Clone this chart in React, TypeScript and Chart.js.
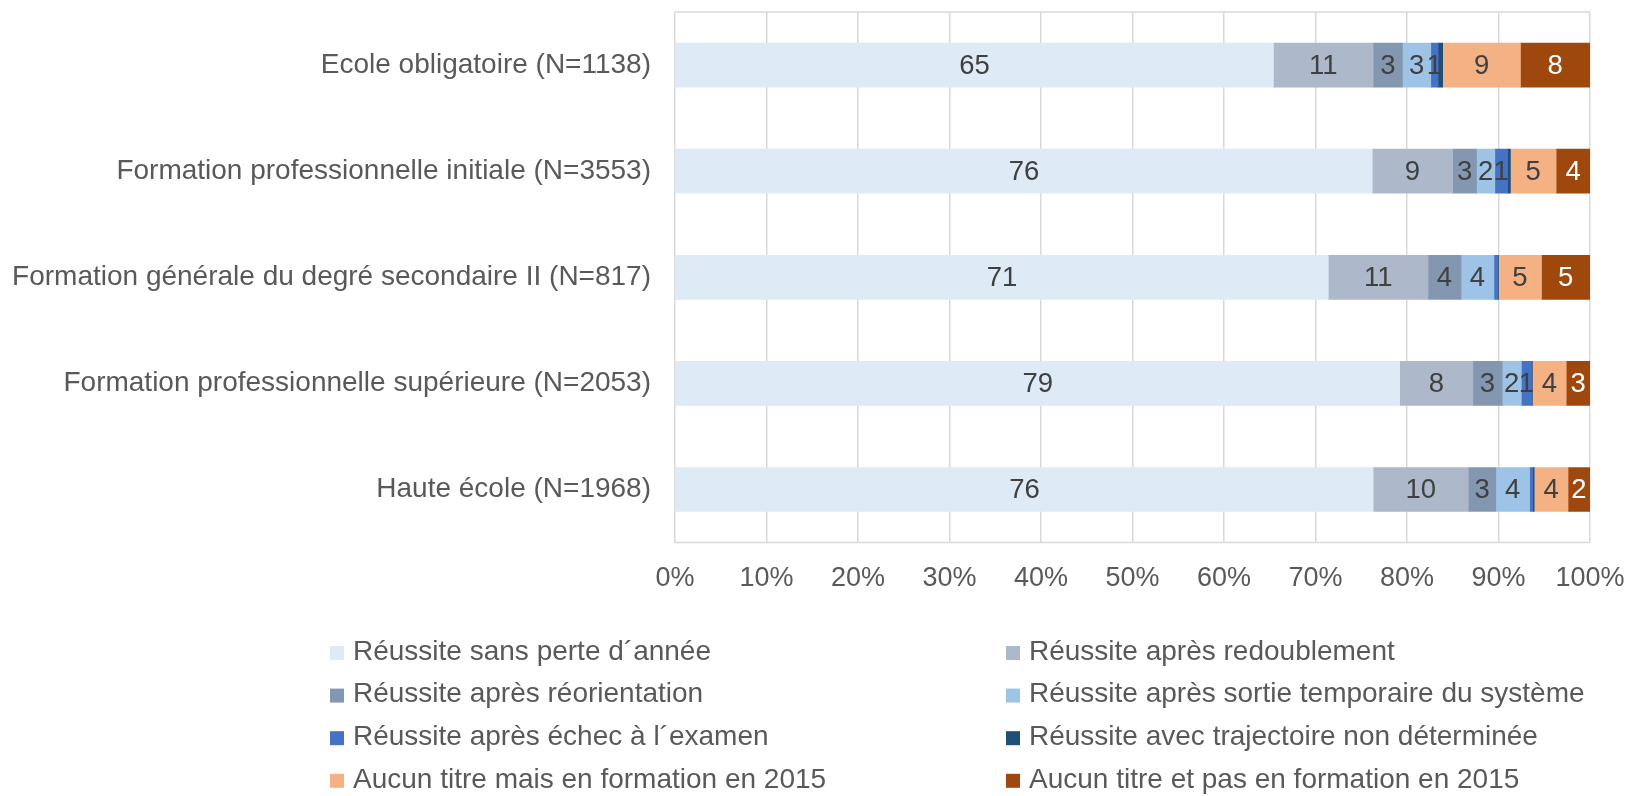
import React, { useEffect, useRef } from "react";
import { Chart, registerables } from "chart.js";

Chart.register(...registerables);

const categories = [
  "Ecole obligatoire (N=1138)",
  "Formation professionnelle initiale (N=3553)",
  "Formation générale du degré secondaire II (N=817)",
  "Formation professionnelle supérieure (N=2053)",
  "Haute école (N=1968)",
];

const seriesLabels = [
  "Réussite sans perte d´année",
  "Réussite après redoublement",
  "Réussite après réorientation",
  "Réussite après sortie temporaire du système",
  "Réussite après échec à l´examen",
  "Réussite avec trajectoire non déterminée",
  "Aucun titre mais en formation en 2015",
  "Aucun titre et pas en formation en 2015",
];

const sansPerte = [65.4, 76.2, 71.4, 79.2, 76.3];
const redoublement = [10.9, 8.8, 10.9, 8.0, 10.4];
const reorientation = [3.2, 2.6, 3.6, 3.2, 3.0];
const sortieTemporaire = [3.1, 2.0, 3.6, 2.1, 3.7];
const echecExamen = [0.8, 1.4, 0.4, 1.1, 0.35];
const nonDeterminee = [0.5, 0.3, 0.1, 0.1, 0.15];
const enFormation2015 = [8.5, 5.0, 4.7, 3.7, 3.7];
const pasEnFormation2015 = [7.6, 3.7, 5.3, 2.6, 2.4];

const xTicks = [0, 10, 20, 30, 40, 50, 60, 70, 80, 90, 100];

const seriesValues = [
  sansPerte,
  redoublement,
  reorientation,
  sortieTemporaire,
  echecExamen,
  nonDeterminee,
  enFormation2015,
  pasEnFormation2015,
];

const colors = [
  "#DEEAF6",
  "#ADB9CA",
  "#8497B0",
  "#9DC3E6",
  "#4472C4",
  "#1F4E79",
  "#F4B183",
  "#9E480E",
];

const labelColors = [
  "#404040",
  "#404040",
  "#404040",
  "#404040",
  "#404040",
  "#404040",
  "#404040",
  "#FFFFFF",
];

const FONT = "'Liberation Sans', Arial, sans-serif";
const TEXT = "#595959";
const GRID = "#d9d9d9";

const borderPlugin = {
  id: "plotBorder",
  beforeDatasetsDraw(chart: any) {
    const { ctx, chartArea } = chart;
    ctx.save();
    ctx.strokeStyle = GRID;
    ctx.lineWidth = 1.5;
    ctx.beginPath();
    ctx.moveTo(chartArea.left, chartArea.top);
    ctx.lineTo(chartArea.right, chartArea.top);
    ctx.moveTo(chartArea.left, chartArea.bottom);
    ctx.lineTo(chartArea.right, chartArea.bottom);
    ctx.stroke();
    ctx.restore();
  },
};

const dataLabelPlugin = {
  id: "dataLabels",
  afterDatasetsDraw(chart: any) {
    const { ctx } = chart;
    ctx.save();
    ctx.font = `27.5px ${FONT}`;
    ctx.textAlign = "center";
    ctx.textBaseline = "middle";
    chart.data.datasets.forEach((ds: any, di: number) => {
      const meta = chart.getDatasetMeta(di);
      meta.data.forEach((el: any, i: number) => {
        const v = ds.data[i];
        if (v < 0.6) return;
        const cx = (el.x + el.base) / 2;
        ctx.fillStyle = labelColors[di];
        ctx.fillText(String(Math.round(v)), cx, el.y + 1);
      });
    });
    ctx.restore();
  },
};

const legendPlugin = {
  id: "twoColLegend",
  afterDraw(chart: any) {
    const { ctx } = chart;
    ctx.save();
    ctx.font = `28px ${FONT}`;
    ctx.textAlign = "left";
    ctx.textBaseline = "middle";
    const colX = [330, 1006];
    const y0 = 652;
    const dy = 42.6;
    chart.data.datasets.forEach((ds: any, di: number) => {
      const col = di % 2;
      const row = Math.floor(di / 2);
      const y = y0 + row * dy;
      ctx.fillStyle = ds.backgroundColor;
      ctx.fillRect(colX[col], y - 6, 14, 14);
      ctx.fillStyle = TEXT;
      ctx.fillText(ds.label, colX[col] + 23, y);
    });
    ctx.restore();
  },
};

export default function App() {
  const ref = useRef<HTMLCanvasElement | null>(null);

  useEffect(() => {
    document.body.style.margin = "0";
    const canvas = ref.current;
    if (!canvas) return;
    const chart = new Chart(canvas, {
      type: "bar",
      data: {
        labels: categories,
        datasets: seriesLabels.map((label, i) => ({
          label,
          data: seriesValues[i],
          backgroundColor: colors[i],
          borderWidth: 0,
          barThickness: 44,
        })),
      },
      options: {
        indexAxis: "y",
        animation: false,
        responsive: false,
        maintainAspectRatio: false,
        layout: { padding: { top: 12, right: 39, left: 0, bottom: 201 } },
        plugins: {
          legend: { display: false },
          tooltip: { enabled: false },
        },
        scales: {
          x: {
            stacked: true,
            min: 0,
            max: 100,
            afterBuildTicks: (scale: any) => {
              scale.ticks = xTicks.map((v) => ({ value: v }));
            },
            ticks: {
              callback: (v: any) => `${v}%`,
              color: TEXT,
              font: { family: FONT, size: 27 },
              padding: 0,
              maxRotation: 0,
              autoSkip: false,
            },
            grid: {
              color: GRID,
              lineWidth: 1.5,
              drawTicks: true,
              tickLength: 20,
              tickColor: "rgba(0,0,0,0)",
            },
            border: { display: false },
          },
          y: {
            stacked: true,
            afterFit: (scale: any) => {
              scale.width = 675;
            },
            ticks: {
              color: TEXT,
              font: { family: FONT, size: 28, lineHeight: 0.8 },
              padding: 0,
              autoSkip: false,
            },
            grid: { display: false, drawTicks: true, tickLength: 24 },
            border: { display: false },
          },
        },
      },
      plugins: [borderPlugin, dataLabelPlugin, legendPlugin],
    });
    return () => chart.destroy();
  }, []);

  return (
    <div style={{ width: 1629, height: 796, background: "#fff" }}>
      <canvas ref={ref} width={1629} height={796} />
    </div>
  );
}
